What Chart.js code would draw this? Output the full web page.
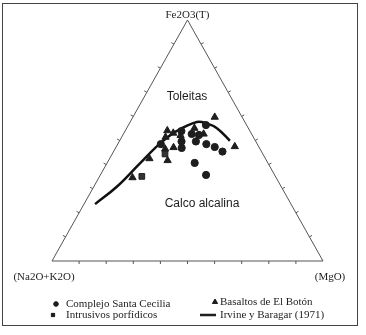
<!DOCTYPE html>
<html>
<head>
<meta charset="utf-8">
<script src="https://cdn.jsdelivr.net/npm/chart.js@4.4.1/dist/chart.umd.min.js"></script>
<style>
  html, body { margin: 0; padding: 0; background: #fff; }
  #wrap { width: 366px; height: 335px; }
</style>
</head>
<body>
<div id="wrap"><canvas id="afm" width="366" height="335"></canvas></div>
<script>
// AFM diagram values, in % of Fe2O3(T) and MgO (alkalis = the rest)
const ceciliaFe = [48.5, 53.9, 49.6, 46.9, 52.7, 52.3, 49.6, 56.4, 48.5, 47.3, 45.4, 40.7, 35.7];
const ceciliaMg = [15.9, 20.8, 23.0, 24.4, 25.2, 28.1, 28.3, 28.6, 32.7, 36.4, 40.2, 32.3, 39.0];

const botonFe = [59.7, 54.1, 53.1, 52.1, 55.1, 52.7, 51.4, 47.1, 46.5, 41.7, 42.5, 34.6, 47.5];
const botonMg = [30.2, 15.5, 18.2, 21.4, 25.0, 29.6, 16.2, 21.3, 18.5, 21.8, 14.7, 12.4, 43.7];

const porfidicosFe = [44.4, 35.1];
const porfidicosMg = [19.5, 15.6];

// Irvine & Baragar (1971) boundary
const irvineFe = [23.6, 30.8, 40.5, 48.8, 53.9, 57.7, 57.1, 55.1, 49.9];
const irvineMg = [4.1, 8.5, 12.2, 15.5, 19.0, 24.6, 28.5, 33.3, 40.7];

const apexLabels = ['Fe2O3(T)', '(Na2O+K2O)', '(MgO)'];
const fieldLabels = ['Toleitas', 'Calco alcalina'];
const seriesLabels = ['Complejo Santa Cecilia', 'Basaltos de El Botón', 'Intrusivos porfídicos', 'Irvine y Baragar (1971)'];

const H = Math.sqrt(3) / 2;
const tern = (fe, mg) => ({ x: mg + fe / 2, y: fe * H });
const toPoints = (fe, mg) => fe.map((f, i) => tern(f, mg[i]));

const ink = '#1e1e1e';
const serif = '"Liberation Serif", "DejaVu Serif", serif';
const sans = '"Liberation Sans", Arial, sans-serif';

const afmPlugin = {
  id: 'afm',
  beforeDatasetsDraw(chart) {
    const { ctx, scales: { x, y } } = chart;
    const px = (fe, mg) => {
      const p = tern(fe, mg);
      return [x.getPixelForValue(p.x), y.getPixelForValue(p.y)];
    };
    ctx.save();
    // outer frame
    ctx.strokeStyle = '#444';
    ctx.lineWidth = 1;
    ctx.strokeRect(2.5, 3.5, 355, 322);

    // triangle
    const top = px(100, 0), left = px(0, 0), right = px(0, 100);
    ctx.strokeStyle = '#555';
    ctx.beginPath();
    ctx.moveTo(left[0], left[1]);
    ctx.lineTo(top[0], top[1]);
    ctx.lineTo(right[0], right[1]);
    ctx.closePath();
    ctx.stroke();

    // ticks every 10 %
    const len = 3;
    ctx.beginPath();
    for (let i = 1; i < 10; i++) {
      const b = px(0, i * 10);
      ctx.moveTo(b[0], b[1]);
      ctx.lineTo(b[0], b[1] + len);
      const l = px(i * 10, 0);
      ctx.moveTo(l[0], l[1]);
      ctx.lineTo(l[0] - len * H, l[1] - len / 2);
      const r = px(i * 10, 100 - i * 10);
      ctx.moveTo(r[0], r[1]);
      ctx.lineTo(r[0] + len * H, r[1] - len / 2);
    }
    ctx.stroke();

    // apex labels
    ctx.fillStyle = ink;
    ctx.textBaseline = 'middle';
    ctx.textAlign = 'center';
    ctx.font = '11px ' + serif;
    ctx.fillText(apexLabels[0], top[0], 15);
    ctx.fillText(apexLabels[1], 44, 277);
    ctx.fillText(apexLabels[2], 330, 277);

    // field labels
    ctx.font = '12px ' + sans;
    ctx.fillText(fieldLabels[0], 187, 97);
    ctx.fillText(fieldLabels[1], 202, 204);
    ctx.restore();
  },
  afterDraw(chart) {
    const { ctx } = chart;
    const items = [
      { ds: 0, mx: 56, my: 304, tx: 66 },
      { ds: 1, mx: 215, my: 302, tx: 220 },
      { ds: 2, mx: 53, my: 315, tx: 66 },
      { ds: 3, mx: 208, my: 315, tx: 220 }
    ];
    ctx.save();
    ctx.fillStyle = ink;
    ctx.strokeStyle = ink;
    ctx.font = '11px ' + serif;
    ctx.textBaseline = 'middle';
    ctx.textAlign = 'left';
    items.forEach(it => {
      const ds = chart.data.datasets[it.ds];
      if (ds.showLine) {
        ctx.lineWidth = 2.5;
        ctx.beginPath();
        ctx.moveTo(it.mx - 8, it.my);
        ctx.lineTo(it.mx + 8, it.my);
        ctx.stroke();
      } else {
        Chart.helpers.drawPoint(ctx, {
          pointStyle: ds.pointStyle,
          radius: ds.pointStyle === 'triangle' ? 3 : 2.3,
          borderWidth: 1
        }, it.mx, it.my);
        ctx.fill();
      }
      ctx.fillText(ds.label, it.tx, it.my);
    });
    ctx.restore();
  }
};

const ctx = document.getElementById('afm').getContext('2d');
new Chart(ctx, {
  type: 'scatter',
  data: {
    datasets: [
      {
        label: seriesLabels[0],
        data: toPoints(ceciliaFe, ceciliaMg),
        pointStyle: 'circle',
        pointRadius: 3.6,
        backgroundColor: ink,
        borderColor: ink
      },
      {
        label: seriesLabels[1],
        data: toPoints(botonFe, botonMg),
        pointStyle: 'triangle',
        pointRadius: 4.2,
        backgroundColor: ink,
        borderColor: ink
      },
      {
        label: seriesLabels[2],
        data: toPoints(porfidicosFe, porfidicosMg),
        pointStyle: 'rect',
        pointRadius: 4,
        backgroundColor: '#333',
        borderColor: ink
      },
      {
        label: seriesLabels[3],
        data: toPoints(irvineFe, irvineMg),
        showLine: true,
        tension: 0.4,
        pointRadius: 0,
        borderWidth: 2.5,
        borderColor: '#111',
        backgroundColor: '#111'
      }
    ]
  },
  options: {
    responsive: false,
    animation: false,
    layout: {
      padding: { left: 52, right: 43, top: 20, bottom: 74 }
    },
    scales: {
      x: { type: 'linear', min: 0, max: 100, display: false },
      y: { type: 'linear', min: 0, max: 100 * H, display: false }
    },
    plugins: {
      legend: { display: false },
      tooltip: { enabled: false }
    }
  },
  plugins: [afmPlugin]
});
</script>
</body>
</html>
